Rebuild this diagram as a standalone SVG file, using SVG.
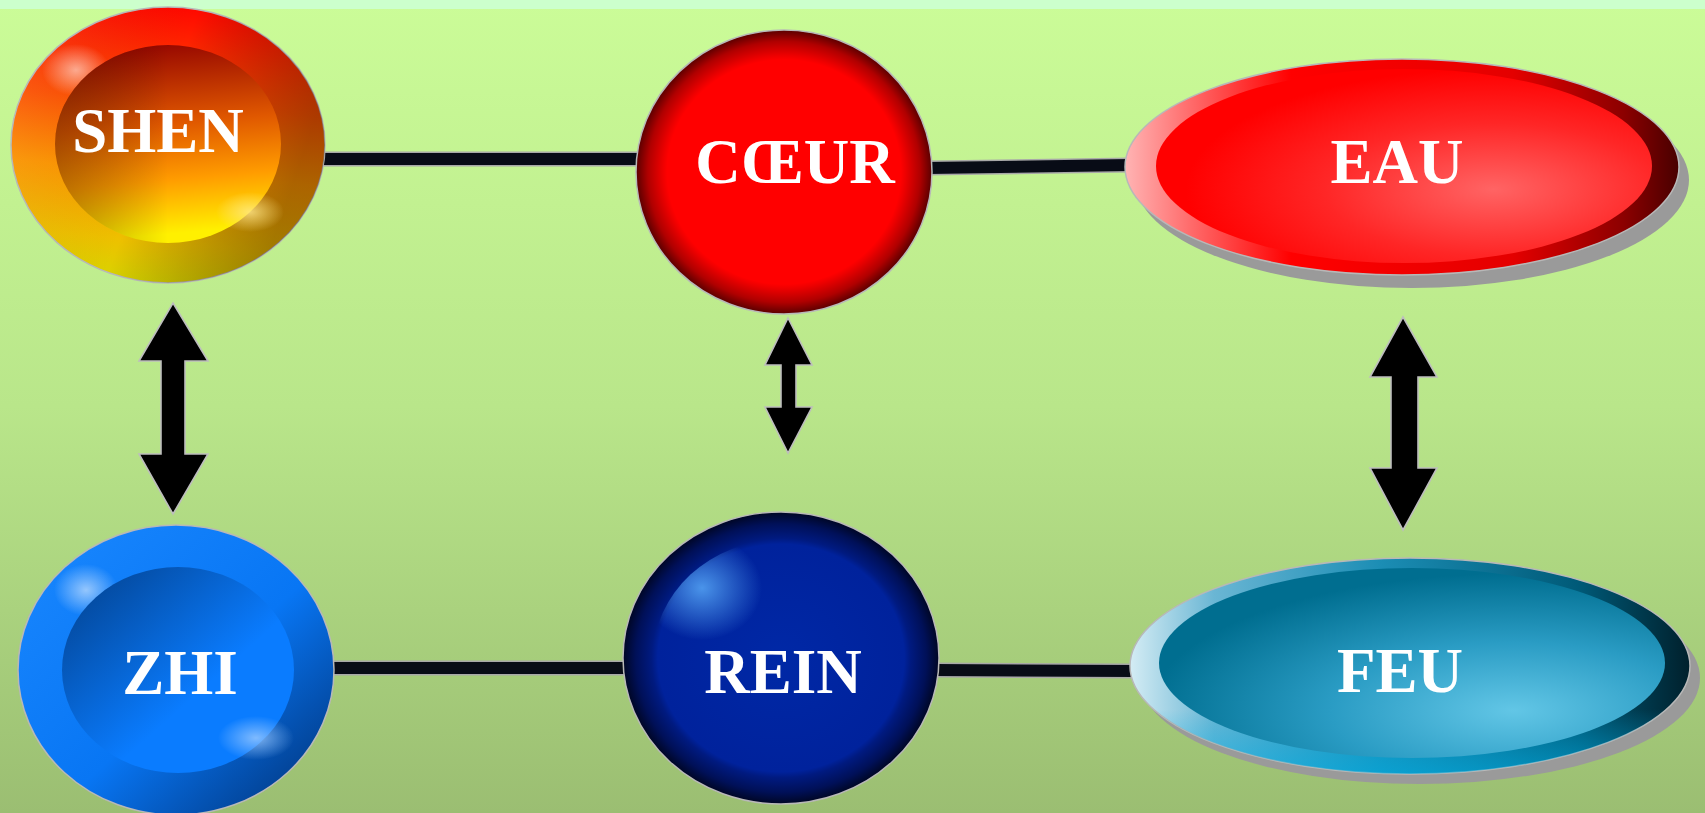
<svg xmlns="http://www.w3.org/2000/svg" width="1705" height="813" viewBox="0 0 1705 813">
<defs>
<style>
.lineBg{stroke:#a8a8a8;stroke-width:15;fill:none}
.lineFg{stroke:#080c16;stroke-width:12;fill:none}
.arrow{fill:#000;stroke:#bdbdbd;stroke-width:1.6;stroke-linejoin:miter}
.lbl{font-family:"Liberation Serif","Times New Roman",serif;font-weight:bold;font-size:63px;fill:#fff;text-anchor:middle}
.edge{stroke:#b8b8b8;stroke-width:1.5}
.shadow{fill:#9a9a9a}
</style>
<linearGradient id="bg" x1="0" y1="0" x2="0" y2="1">
<stop offset="0" stop-color="#cbfc98"/>
<stop offset="0.5" stop-color="#b9e68a"/>
<stop offset="1" stop-color="#9bbe72"/>
</linearGradient>
<linearGradient id="shenO" x1="0.55" y1="0" x2="0.45" y2="1">
<stop offset="0" stop-color="#ff0800"/>
<stop offset="0.35" stop-color="#ff5000"/>
<stop offset="0.6" stop-color="#ff9600"/>
<stop offset="0.85" stop-color="#eec000"/>
<stop offset="1" stop-color="#d8d400"/>
</linearGradient>
<linearGradient id="darkR" x1="0" y1="0" x2="1" y2="0.3">
<stop offset="0" stop-color="#ffffff" stop-opacity="0.1"/>
<stop offset="0.55" stop-color="#000000" stop-opacity="0"/>
<stop offset="1" stop-color="#301800" stop-opacity="0.4"/>
</linearGradient>
<radialGradient id="hl" cx="0.5" cy="0.5" r="0.5">
<stop offset="0" stop-color="#ffffff" stop-opacity="0.55"/>
<stop offset="1" stop-color="#ffffff" stop-opacity="0"/>
</radialGradient>
<radialGradient id="hlY" cx="0.5" cy="0.5" r="0.5">
<stop offset="0" stop-color="#ffe88a" stop-opacity="0.8"/>
<stop offset="1" stop-color="#ffe88a" stop-opacity="0"/>
</radialGradient>
<linearGradient id="shenI" x1="0.45" y1="0" x2="0.55" y2="1">
<stop offset="0" stop-color="#980800"/>
<stop offset="0.4" stop-color="#e05800"/>
<stop offset="0.68" stop-color="#ff9c00"/>
<stop offset="0.95" stop-color="#fff000"/>
</linearGradient>
<linearGradient id="darkL" x1="0" y1="0" x2="1" y2="0">
<stop offset="0" stop-color="#3a1800" stop-opacity="0.35"/>
<stop offset="0.5" stop-color="#000000" stop-opacity="0"/>
<stop offset="1" stop-color="#000000" stop-opacity="0"/>
</linearGradient>
<linearGradient id="zhiO" x1="0" y1="0" x2="1" y2="1">
<stop offset="0" stop-color="#1a88ff"/>
<stop offset="0.55" stop-color="#0876f4"/>
<stop offset="1" stop-color="#002e70"/>
</linearGradient>
<linearGradient id="zhiI" x1="0" y1="0" x2="1" y2="1">
<stop offset="0" stop-color="#023e88"/>
<stop offset="0.6" stop-color="#0a7cff"/>
<stop offset="1" stop-color="#0a7cff"/>
</linearGradient>
<radialGradient id="hlBlue" cx="0.5" cy="0.5" r="0.5">
<stop offset="0" stop-color="#9ccaff" stop-opacity="0.8"/>
<stop offset="1" stop-color="#9ccaff" stop-opacity="0"/>
</radialGradient>
<radialGradient id="coeur" cx="0.5" cy="0.5" r="0.5">
<stop offset="0" stop-color="#ff0000"/>
<stop offset="0.79" stop-color="#ff0000"/>
<stop offset="0.82" stop-color="#ee0000"/>
<stop offset="0.92" stop-color="#b00000"/>
<stop offset="1" stop-color="#5a0000"/>
</radialGradient>
<radialGradient id="rein" cx="0.5" cy="0.5" r="0.5">
<stop offset="0" stop-color="#0028a6"/>
<stop offset="0.78" stop-color="#00229c"/>
<stop offset="0.82" stop-color="#001a80"/>
<stop offset="0.92" stop-color="#001058"/>
<stop offset="1" stop-color="#000624"/>
</radialGradient>
<radialGradient id="reinHl" cx="0.5" cy="0.5" r="0.5">
<stop offset="0" stop-color="#4a94ea" stop-opacity="1"/>
<stop offset="1" stop-color="#4a94ea" stop-opacity="0"/>
</radialGradient>
<clipPath id="reinClip"><ellipse cx="781" cy="658" rx="128" ry="118"/></clipPath>
<linearGradient id="eauO" x1="0" y1="0" x2="1" y2="0">
<stop offset="0" stop-color="#ffb4b4"/>
<stop offset="0.12" stop-color="#ff6a6a"/>
<stop offset="0.3" stop-color="#ff0000"/>
<stop offset="0.7" stop-color="#e40000"/>
<stop offset="0.9" stop-color="#8c0000"/>
<stop offset="1" stop-color="#480000"/>
</linearGradient>
<radialGradient id="eauI" cx="0.68" cy="0.62" r="0.62">
<stop offset="0" stop-color="#ff6464"/>
<stop offset="0.55" stop-color="#ff2626"/>
<stop offset="1" stop-color="#ff0000"/>
</radialGradient>
<linearGradient id="feuO" x1="0" y1="0" x2="1" y2="0">
<stop offset="0" stop-color="#d4ecf4"/>
<stop offset="0.15" stop-color="#6ab6d4"/>
<stop offset="0.45" stop-color="#1b8db4"/>
<stop offset="0.8" stop-color="#005a78"/>
<stop offset="1" stop-color="#00202c"/>
</linearGradient>
<linearGradient id="feuBot" x1="0" y1="0" x2="0" y2="1">
<stop offset="0" stop-color="#00aee4" stop-opacity="0"/>
<stop offset="0.7" stop-color="#00aee4" stop-opacity="0"/>
<stop offset="1" stop-color="#00aee4" stop-opacity="0.6"/>
</linearGradient>
<radialGradient id="feuI" cx="0.7" cy="0.75" r="0.72">
<stop offset="0" stop-color="#62c6e6"/>
<stop offset="0.5" stop-color="#2a9cc4"/>
<stop offset="1" stop-color="#006e90"/>
</radialGradient>
</defs>

<rect x="0" y="0" width="1705" height="813" fill="url(#bg)"/>
<rect x="0" y="0" width="1705" height="9" fill="#ccffcc"/>

<g id="connectors">
<path class="lineBg" d="M320 159 L640 159"/>
<path class="lineFg" d="M320 159 L640 159"/>
<path class="lineBg" d="M928 168 L1130 165"/>
<path class="lineFg" d="M928 168 L1130 165"/>
<path class="lineBg" d="M328 668 L626 668"/>
<path class="lineFg" d="M328 668 L626 668"/>
<path class="lineBg" d="M935 670 L1135 671"/>
<path class="lineFg" d="M935 670 L1135 671"/>
<polygon class="arrow" points="173,303 208,361 185,361 185,454 208,454 173,514 139,454 161,454 161,361 139,361"/>
<polygon class="arrow" points="788,318 812,365 796,365 796,407 812,407 788,453 765,407 781,407 781,365 765,365"/>
<polygon class="arrow" points="1403,317 1437,377 1418,377 1418,468 1437,468 1403,530 1370,468 1391,468 1391,377 1370,377"/>
</g>

<g id="node-shen">
<ellipse cx="168" cy="145" rx="157" ry="138" fill="url(#shenO)" class="edge"/>
<ellipse cx="168" cy="145" rx="157" ry="138" fill="url(#darkR)"/>
<ellipse cx="76" cy="70" rx="34" ry="26" fill="url(#hl)"/>
<ellipse cx="168" cy="144" rx="113" ry="99" fill="url(#shenI)"/>
<ellipse cx="168" cy="144" rx="113" ry="99" fill="url(#darkL)"/>
<ellipse cx="250" cy="212" rx="34" ry="20" fill="url(#hlY)"/>
<text class="lbl" x="158" y="152">SHEN</text>
</g>

<g id="node-coeur">
<ellipse cx="784" cy="172" rx="148" ry="142" fill="url(#coeur)" class="edge"/>
<text class="lbl" x="795" y="183">CŒUR</text>
</g>

<g id="node-eau">
<ellipse class="shadow" cx="1412" cy="180" rx="277" ry="108"/>
<ellipse cx="1402" cy="167" rx="277" ry="108" fill="url(#eauO)" class="edge"/>
<ellipse cx="1404" cy="166" rx="248" ry="97" fill="url(#eauI)"/>
<text class="lbl" x="1397" y="183">EAU</text>
</g>

<g id="node-zhi">
<ellipse cx="176" cy="670" rx="158" ry="145" fill="url(#zhiO)" class="edge"/>
<ellipse cx="86" cy="590" rx="32" ry="26" fill="url(#hl)"/>
<ellipse cx="178" cy="670" rx="116" ry="103" fill="url(#zhiI)"/>
<ellipse cx="256" cy="738" rx="38" ry="22" fill="url(#hlBlue)"/>
<text class="lbl" x="180" y="694">ZHI</text>
</g>

<g id="node-rein">
<ellipse cx="781" cy="658" rx="158" ry="146" fill="url(#rein)" class="edge"/>
<ellipse cx="702" cy="588" rx="60" ry="52" fill="url(#reinHl)" clip-path="url(#reinClip)"/>
<text class="lbl" x="783" y="693">REIN</text>
</g>

<g id="node-feu">
<ellipse class="shadow" cx="1420" cy="678" rx="280" ry="106"/>
<ellipse cx="1410" cy="666" rx="280" ry="108" fill="url(#feuO)" class="edge"/>
<ellipse cx="1410" cy="666" rx="280" ry="108" fill="url(#feuBot)"/>
<ellipse cx="1412" cy="663" rx="253" ry="95" fill="url(#feuI)"/>
<text class="lbl" x="1400" y="692">FEU</text>
</g>
</svg>
